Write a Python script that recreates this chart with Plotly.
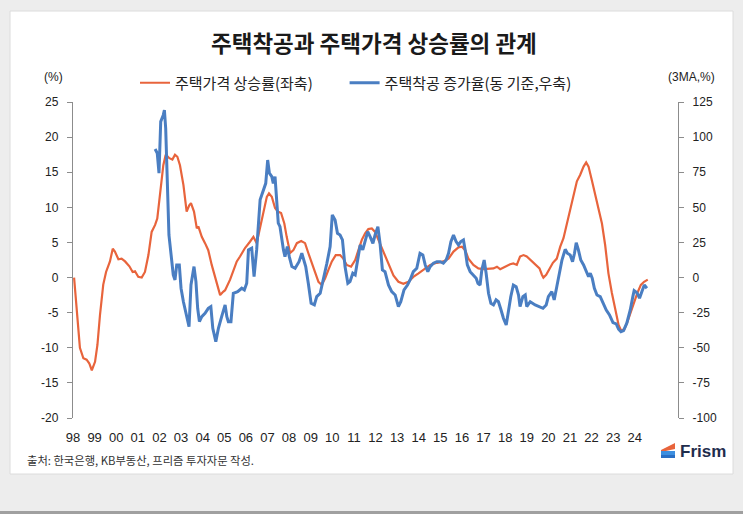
import plotly.graph_objects as go

# 주택가격 상승률 (left axis, %)
price_year = [1998.05, 1998.32, 1998.48, 1998.63, 1998.75, 1998.87, 1999.02, 1999.13, 1999.25, 1999.40,
              1999.53, 1999.71, 1999.84, 1999.94, 2000.10, 2000.25, 2000.41, 2000.61, 2000.76, 2000.87,
              2001.02, 2001.18, 2001.33, 2001.49, 2001.64, 2001.80, 2001.90, 2002.03, 2002.18, 2002.29,
              2002.46, 2002.60, 2002.72, 2002.83, 2002.95, 2003.11, 2003.26, 2003.38, 2003.46, 2003.60,
              2003.73, 2003.80, 2003.96, 2004.11, 2004.26, 2004.42, 2004.57, 2004.70, 2004.81, 2004.96,
              2005.04, 2005.27, 2005.42, 2005.58, 2005.73, 2005.96, 2006.19, 2006.35, 2006.50, 2006.66,
              2006.81, 2006.97, 2007.07, 2007.20, 2007.35, 2007.48, 2007.63, 2007.78, 2007.89, 2008.05,
              2008.20, 2008.36, 2008.56, 2008.74, 2008.89, 2009.05, 2009.20, 2009.36, 2009.51, 2009.67,
              2009.82, 2009.98, 2010.16, 2010.36, 2010.51, 2010.67, 2010.87, 2011.06, 2011.21, 2011.37,
              2011.52, 2011.67, 2011.83, 2011.98, 2012.13, 2012.29, 2012.44, 2012.60, 2012.83, 2013.06,
              2013.29, 2013.52, 2013.75, 2013.99, 2014.22, 2014.53, 2014.84, 2015.14, 2015.38, 2015.61,
              2015.84, 2016.00, 2016.15, 2016.30, 2016.53, 2016.76, 2017.00, 2017.23, 2017.46, 2017.62,
              2017.77, 2018.00, 2018.23, 2018.38, 2018.54, 2018.69, 2018.85, 2019.00, 2019.24, 2019.39,
              2019.59, 2019.70, 2019.77, 2019.90, 2020.05, 2020.21, 2020.39, 2020.55, 2020.70, 2020.86,
              2021.01, 2021.16, 2021.32, 2021.47, 2021.63, 2021.75, 2021.86, 2022.01, 2022.17, 2022.32,
              2022.48, 2022.63, 2022.78, 2022.94, 2023.09, 2023.25, 2023.36, 2023.51, 2023.66, 2023.82,
              2023.97, 2024.12, 2024.28, 2024.43, 2024.60]
price_yoy = [0.0, -10.0, -11.5, -11.7, -12.2, -13.2, -12.0, -9.6, -5.3, -1.0,
             0.8, 2.3, 4.1, 3.7, 2.6, 2.7, 2.3, 1.6, 0.8, 0.9,
             0.1, 0.0, 0.8, 3.2, 6.5, 7.5, 8.4, 11.8, 16.0, 17.5,
             17.0, 16.8, 17.5, 17.2, 16.0, 13.2, 9.4, 10.3, 10.6, 9.4,
             7.0, 7.3, 5.8, 4.9, 3.9, 1.8, 0.1, -1.3, -2.5, -2.0,
             -1.8, -0.3, 1.1, 2.3, 3.0, 4.2, 5.1, 5.8, 4.9, 7.3,
             9.6, 11.5, 12.0, 11.5, 9.9, 9.4, 9.2, 7.7, 5.8, 3.5,
             3.9, 4.9, 5.2, 4.9, 3.5, 2.0, 0.6, -0.6, -1.05, -0.1,
             1.1, 2.3, 3.2, 3.2, 2.7, 1.8, 1.55, 2.5, 3.9, 5.4,
             6.3, 6.9, 7.0, 6.5, 5.4, 4.2, 3.2, 1.8, 0.3, -0.6,
             -0.9, -0.6, 0.1, 0.6, 1.1, 1.8, 2.1, 2.3, 2.7, 3.7,
             4.3, 4.4, 3.9, 2.7, 1.8, 1.3, 1.2, 1.2, 1.3, 1.55,
             1.2, 1.55, 1.9, 2.0, 1.8, 3.0, 3.2, 3.0, 2.3, 1.9,
             1.3, 0.4, 0.0, 0.4, 1.3, 2.1, 2.7, 4.4, 5.6, 7.7,
             9.9, 11.8, 13.7, 14.6, 15.8, 16.4, 15.8, 13.9, 11.8, 9.9,
             7.7, 4.6, 0.6, -2.2, -4.6, -6.75, -7.5, -7.4, -6.3, -4.9,
             -3.4, -2.2, -1.05, -0.6, -0.3]

# 주택착공 증가율 (right axis, 3MA %)
starts_year = [2001.80, 2001.90, 2001.98, 2002.06, 2002.18, 2002.23, 2002.29, 2002.37, 2002.44, 2002.54,
               2002.64, 2002.72, 2002.80, 2002.92, 2003.00, 2003.11, 2003.26, 2003.37, 2003.46, 2003.60,
               2003.69, 2003.77, 2003.85, 2003.96, 2004.11, 2004.26, 2004.38, 2004.47, 2004.61, 2004.73,
               2004.88, 2005.04, 2005.12, 2005.19, 2005.31, 2005.42, 2005.62, 2005.81, 2005.93, 2006.04,
               2006.12, 2006.27, 2006.38, 2006.50, 2006.66, 2006.81, 2006.92, 2007.01, 2007.09, 2007.20,
               2007.27, 2007.35, 2007.43, 2007.50, 2007.58, 2007.66, 2007.74, 2007.81, 2007.92, 2008.01,
               2008.13, 2008.28, 2008.46, 2008.59, 2008.69, 2008.77, 2008.89, 2009.02, 2009.17, 2009.28,
               2009.44, 2009.59, 2009.75, 2009.90, 2010.00, 2010.13, 2010.24, 2010.36, 2010.47, 2010.59,
               2010.72, 2010.82, 2010.95, 2011.06, 2011.18, 2011.29, 2011.41, 2011.52, 2011.64, 2011.75,
               2011.88, 2011.98, 2012.11, 2012.21, 2012.32, 2012.44, 2012.60, 2012.75, 2012.91, 2013.06,
               2013.17, 2013.32, 2013.48, 2013.60, 2013.75, 2013.91, 2013.99, 2014.06, 2014.19, 2014.30,
               2014.42, 2014.53, 2014.68, 2014.84, 2014.99, 2015.14, 2015.27, 2015.38, 2015.49, 2015.61,
               2015.73, 2015.84, 2015.95, 2016.07, 2016.15, 2016.25, 2016.38, 2016.53, 2016.66, 2016.74,
               2016.84, 2016.92, 2017.03, 2017.12, 2017.23, 2017.34, 2017.46, 2017.58, 2017.69, 2017.81,
               2017.92, 2018.05, 2018.15, 2018.26, 2018.38, 2018.51, 2018.62, 2018.69, 2018.82, 2018.93,
               2019.00, 2019.16, 2019.39, 2019.59, 2019.75, 2019.90, 2020.00, 2020.16, 2020.27, 2020.39,
               2020.51, 2020.63, 2020.78, 2020.88, 2021.01, 2021.12, 2021.21, 2021.29, 2021.39, 2021.50,
               2021.63, 2021.75, 2021.86, 2021.94, 2022.03, 2022.13, 2022.25, 2022.40, 2022.52, 2022.68,
               2022.83, 2022.99, 2023.14, 2023.25, 2023.36, 2023.48, 2023.63, 2023.79, 2023.91, 2023.97,
               2024.10, 2024.22, 2024.33, 2024.44, 2024.56]
starts_3ma = [91.5, 88.5, 74.3, 111.0, 115.8, 119.3, 106.3, 70.7, 30.3, 16.1,
              1.9, -1.7, 9.0, 9.0, -7.6, -17.2, -27.8, -35.0, -5.3, 7.8,
              -2.9, -21.9, -31.4, -27.8, -25.4, -21.9, -20.7, -36.1, -45.6, -36.1,
              -27.8, -19.5, -27.8, -31.4, -31.4, -11.2, -10.0, -7.6, -8.8, -4.1,
              19.7, 20.9, 0.6, 19.7, 55.3, 62.4, 67.1, 83.7, 74.3, 71.9,
              67.1, 71.9, 55.3, 38.7, 36.2, 26.8, 19.7, 14.9, 22.0, 14.9,
              7.8, 6.6, 11.3, 17.3, 11.3, 7.8, -4.1, -18.3, -19.5, -13.6,
              -11.2, -1.7, 10.2, 22.0, 44.6, 41.0, 31.5, 30.3, 26.8, 7.8,
              -4.1, -2.9, 3.1, 1.9, 14.9, 23.2, 19.7, 26.8, 32.7, 29.1,
              24.4, 30.3, 36.2, 24.4, 5.4, 4.2, -5.3, -10.0, -12.4, -20.7,
              -17.2, -8.8, -5.3, -1.7, 4.2, 6.6, 11.3, 17.3, 16.1, 9.0,
              4.2, 7.8, 10.2, 11.3, 11.3, 10.2, 12.5, 17.3, 25.6, 30.3,
              25.6, 23.2, 25.6, 26.8, 19.7, 9.0, 4.2, 1.9, -0.5, -4.1,
              -5.3, 5.4, 12.5, 3.1, -11.2, -18.3, -19.5, -15.9, -17.2, -23.1,
              -29.0, -33.8, -23.1, -13.6, -5.3, -6.5, -12.4, -20.7, -13.6, -12.4,
              -20.7, -17.2, -19.5, -20.7, -21.9, -19.5, -13.6, -10.0, -15.9, -6.5,
              3.1, 12.5, 20.1, 17.3, 16.1, 11.3, 17.3, 24.8, 19.7, 12.5,
              9.0, 4.2, 0.6, 3.1, -0.5, -7.6, -12.4, -13.6, -18.3, -23.1,
              -26.6, -32.1, -33.0, -36.8, -38.5, -37.8, -32.5, -23.1, -13.6, -9.3,
              -10.8, -14.7, -10.0, -5.3, -7.6]

year_ticks = list(range(1998, 2027))
year_labels = ["98", "99", "00", "01", "02", "03", "04", "05", "06", "07", "08", "09", "10", "11",
               "12", "13", "14", "15", "16", "17", "18", "19", "20", "21", "22", "23", "24"]
left_ticks = [-20, -15, -10, -5, 0, 5, 10, 15, 20, 25]
left_labels = ["-20", "-15", "-10", "-5", "0", "5", "10", "15", "20", "25"]
right_ticks = [-100, -75, -50, -25, 0, 25, 50, 75, 100, 125]
right_labels = ["-100", "-75", "-50", "-25", "0", "25", "50", "75", "100", "125"]

KR = "Noto Sans CJK KR"
NUM = "Liberation Sans"

# plot area in pixels: x 73..678, y 102..418
L, R, T, B = 73, 678, 102, 418


def px(x):
    return (x - L) / (R - L)


def py(y):
    return (B - y) / (B - T)


def label(text, x, y, size, family=KR, color="#222", xanchor="center"):
    fig.add_annotation(text=text, xref="paper", yref="paper", x=px(x), y=py(y),
                       xanchor=xanchor, yanchor="middle", showarrow=False,
                       font=dict(family=family, size=size, color=color))


fig = go.Figure()

# trailing no-break spaces widen the gap between the two legend entries
fig.add_trace(go.Scatter(x=price_year, y=price_yoy, name="주택가격 상승률(좌축)" + "\u00a0" * 8,
                         mode="lines", line=dict(color="#E8643C", width=2.2), yaxis="y"))
fig.add_trace(go.Scatter(x=starts_year, y=starts_3ma, name="주택착공 증가율(동 기준,우축)", mode="lines",
                         line=dict(color="#4A7EC2", width=3), yaxis="y2"))

axis_grey = "#8c8c8c"

fig.update_layout(
    width=743, height=514,
    margin=dict(l=L, r=743 - R, t=T, b=514 - B),
    paper_bgcolor="#ededed",
    plot_bgcolor="white",
    showlegend=True,
    legend=dict(orientation="h", x=px(135), xanchor="left", y=py(83), yanchor="middle",
                font=dict(family=KR, size=15, color="#222"), bgcolor="rgba(0,0,0,0)",
                tracegroupgap=0),
    xaxis=dict(range=[1998, 2026], tickvals=year_ticks[:27], ticktext=year_labels,
               showline=False, showgrid=False, zeroline=False,
               ticks="outside", ticklen=7, tickcolor="rgba(0,0,0,0)",
               tickfont=dict(family=NUM, size=13, color="#222")),
    xaxis2=dict(overlaying="x", matches="x", anchor="free", position=py(277.6),
                range=[1998, 2026], tickvals=year_ticks, showticklabels=False,
                showline=True, linecolor=axis_grey, linewidth=1.3,
                ticks="outside", ticklen=4, tickcolor=axis_grey, showgrid=False, zeroline=False),
    yaxis=dict(range=[-20, 25], tickvals=left_ticks, ticktext=left_labels,
               showgrid=False, zeroline=False,
               showline=True, linecolor=axis_grey, linewidth=1.3,
               ticks="outside", ticklen=5, tickcolor=axis_grey, ticklabelstandoff=6,
               tickfont=dict(family=NUM, size=12, color="#222")),
    yaxis2=dict(range=[-100, 125], tickvals=right_ticks, ticktext=right_labels,
                overlaying="y", side="right",
                showgrid=False, zeroline=False,
                showline=True, linecolor=axis_grey, linewidth=1.3,
                ticks="outside", ticklen=5, tickcolor=axis_grey, ticklabelstandoff=6,
                tickfont=dict(family=NUM, size=12, color="#222")),
)

# white card behind the chart
fig.add_shape(type="rect", xref="paper", yref="paper", layer="below",
              x0=px(10), x1=px(733), y0=py(474), y1=py(11),
              fillcolor="white", line=dict(color="#dcdcdc", width=1))
# darker bottom edge of the page
fig.add_shape(type="rect", xref="paper", yref="paper", layer="below",
              x0=px(-5), x1=px(750), y0=py(516), y1=py(511),
              fillcolor="#a0a0a0", line=dict(width=0))

label("<b>주택착공과 주택가격 상승률의 관계</b>", 374, 42, 22.5, color="#1a1a1a")
label("(%)", 53, 77, 12, family=NUM)
label("(3MA,%)", 691, 77, 12, family=NUM)
label("출처: 한국은행, KB부동산, 프리즘 투자자문 작성.", 25, 460, 11.3, color="#333", xanchor="left")

# Frism logo
fig.add_shape(type="path", xref="paper", yref="paper",
              path="M %f,%f L %f,%f L %f,%f L %f,%f Z" % (px(661), py(450), px(675), py(443),
                                                          px(675), py(449), px(661), py(452)),
              fillcolor="#E8643C", line=dict(width=0))
fig.add_shape(type="rect", xref="paper", yref="paper",
              x0=px(661), x1=px(675), y0=py(455), y1=py(451),
              fillcolor="#3d8fe0", line=dict(width=0))
fig.add_shape(type="rect", xref="paper", yref="paper",
              x0=px(661), x1=px(675), y0=py(458), y1=py(455),
              fillcolor="#2a6fc4", line=dict(width=0))
label("<b>Frism</b>", 678, 451, 17, family=NUM, color="#1f2d4d", xanchor="left")

fig.write_html("out.html", config={"displayModeBar": False},
               post_script="document.body.style.margin='0';")
